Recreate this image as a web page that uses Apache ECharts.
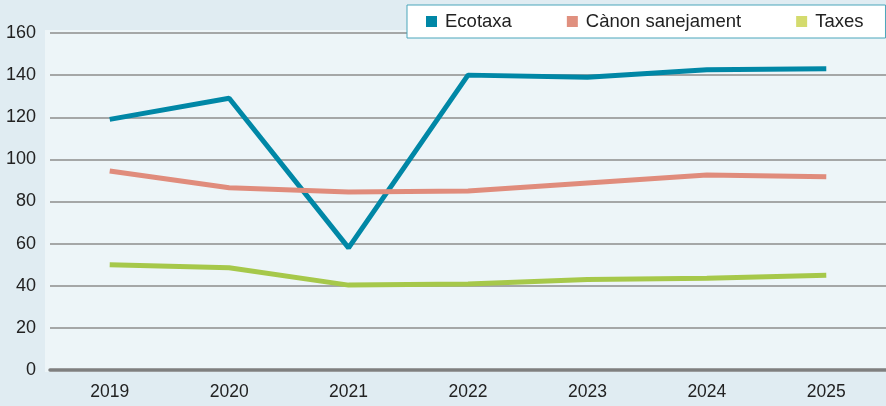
<!DOCTYPE html>
<html>
<head>
<meta charset="utf-8">
<script src="https://cdn.jsdelivr.net/npm/echarts@6/dist/echarts.min.js"></script>
<style>
html,body{margin:0;padding:0;background:#e0ecf2;}
#c{width:886px;height:406px;}
</style>
</head>
<body>
<div id="c"></div>
<script>
const years = ['2019','2020','2021','2022','2023','2024','2025'];
const ecotaxa = [119, 129, 58, 140, 139, 142.5, 143];
const canon = [94.5, 86.5, 84.5, 85, 88.8, 92.6, 91.7];
const taxes = [50, 48.5, 40.3, 40.8, 43, 43.6, 45];
const yTicks = [0, 20, 40, 60, 80, 100, 120, 140, 160];

const chart = echarts.init(document.getElementById('c'), null, {renderer:'canvas'});
chart.setOption({
  backgroundColor: '#e0ecf2',
  animation: false,
  graphic: [{
    type: 'rect', z: -10, silent: true,
    shape: {x: 45, y: 30, width: 845, height: 342},
    style: {fill: '#edf5f8'}
  }],
  legend: {
    left: 407, top: 5,
    backgroundColor: '#ffffff',
    borderColor: '#4aa6bb', borderWidth: 1,
    padding: [7, 22, 7, 19],
    itemGap: 55,
    itemWidth: 11, itemHeight: 11,
    icon: 'rect',
    textStyle: {fontFamily: 'Liberation Sans, Arial, sans-serif', fontSize: 18.5, color: '#222', padding: [0,0,0,3]},
    data: ['Ecotaxa', 'Cànon sanejament', 'Taxes']
  },
  grid: {left: 50, right: -4, top: 33, bottom: 36, containLabel: false},
  xAxis: {
    type: 'category', data: years, boundaryGap: true,
    axisLine: {show: true, lineStyle: {color: '#7f7f7f', width: 3.5}},
    axisTick: {show: false},
    axisLabel: {margin: 13, color: '#222', fontSize: 17.5, fontFamily: 'Liberation Sans, Arial, sans-serif'},
    splitLine: {show: false}
  },
  yAxis: {
    type: 'value', min: yTicks[0], max: yTicks[yTicks.length-1], interval: 20,
    axisLine: {show: false}, axisTick: {show: false},
    axisLabel: {margin: 14, color: '#222', fontSize: 18, fontFamily: 'Liberation Sans, Arial, sans-serif'},
    splitLine: {show: true, lineStyle: {color: '#8c8c8c', width: 1.5}}
  },
  series: [
    {name: 'Ecotaxa', type: 'line', data: ecotaxa, symbol: 'none',
     lineStyle: {color: '#0087a6', width: 5}, itemStyle: {color: '#0087a6'}},
    {name: 'Cànon sanejament', type: 'line', data: canon, symbol: 'none',
     lineStyle: {color: '#e08c7c', width: 5}, itemStyle: {color: '#e0907f'}},
    {name: 'Taxes', type: 'line', data: taxes, symbol: 'none',
     lineStyle: {color: '#a6c84a', width: 5}, itemStyle: {color: '#d4db6e'}}
  ]
});
</script>
</body>
</html>
